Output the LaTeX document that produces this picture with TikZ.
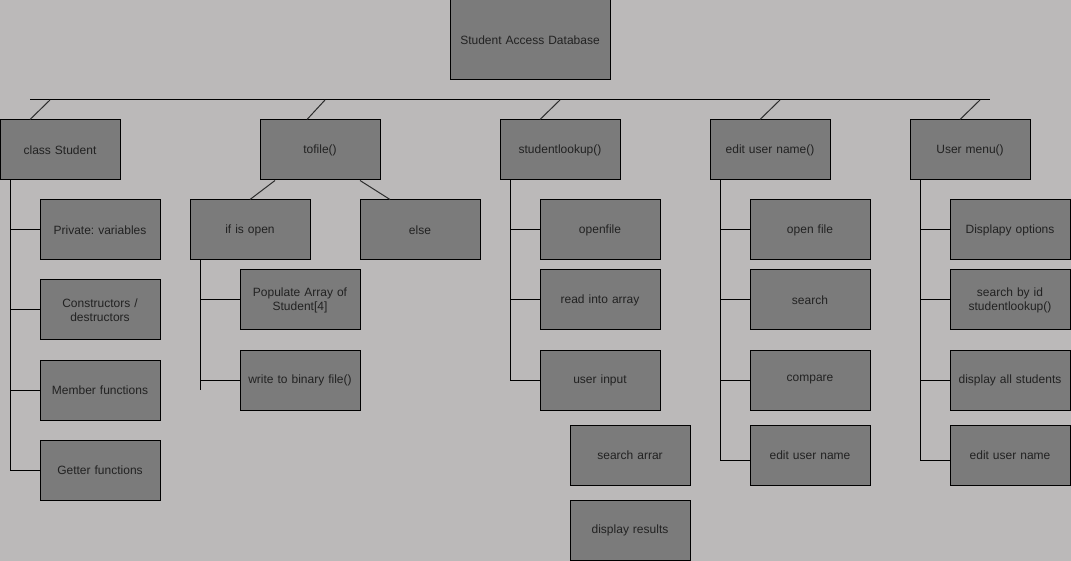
\documentclass[tikz,border=0pt]{standalone}
\usepackage{fontspec}
\setmainfont{Liberation Sans}
\frenchspacing
\begin{document}
\definecolor{pagebg}{RGB}{187,185,185}
\definecolor{boxfill}{RGB}{123,123,123}
\definecolor{inktext}{RGB}{34,34,34}
\definecolor{linkgray}{RGB}{45,45,45}
\begin{tikzpicture}[x=1pt,y=-1pt,
  box/.style={draw=black,line width=1pt,fill=boxfill,rectangle,
    minimum width=120pt,minimum height=60pt,inner sep=2pt,align=center,
    text=inktext,font=\fontsize{12}{14}\selectfont,text width=112pt},
  rootbox/.style={box,minimum width=160pt,minimum height=80pt,text width=150pt},
  wire/.style={draw=black,line width=1pt},
  slant/.style={draw=linkgray,line width=1pt}]
% canvas
\fill[pagebg] (0,0) rectangle (1071,561);
\useasboundingbox (0,0) rectangle (1071,561);

% root
\node[rootbox] (root) at (530,40) {Student Access Database};

% bar under the root
\coordinate (barL) at (30,100);
\coordinate (barR) at (990,100);
\draw[wire] (barL) -- (barR);

% first level
\node[box] (cs) at (60,150)  {class Student};
\node[box] (tf) at (320,150) {tofile()};
\node[box] (sl) at (560,150) {studentlookup()};
\node[box] (eu) at (770,150) {edit user name()};
\node[box] (um) at (970,150) {User menu()};

\coordinate (b1) at (50,100);
\coordinate (b2) at (325,100);
\coordinate (b3) at (560,100);
\coordinate (b4) at (780,100);
\coordinate (b5) at (980,100);
\draw[slant] (b1) -- (cs.north west -| 30,0);
\draw[slant] (b2) -- (tf.north -| 307,0);
\draw[slant] (b3) -- (sl.north -| 540,0);
\draw[slant] (b4) -- (eu.north -| 760,0);
\draw[slant] (b5) -- (um.north -| 960,0);

% class Student members
\node[box] (pv) at (100,230) {Private: variables};
\node[box] (cd) at (100,310) {Constructors /\\destructors};
\node[box] (mf) at (100,390) {Member functions};
\node[box] (gf) at (100,470) {Getter functions};
\coordinate (csT) at (10,180);
\draw[wire] (csT) -- (gf.west -| csT);
\foreach \c in {pv,cd,mf,gf} \draw[wire] (\c.west -| csT) -- (\c.west);

% tofile branches
\node[box] (io) at (250,230) {if is open};
\node[box] (el) at (420,230) {else};
\draw[slant] (tf.south -| 275,0) -- (io.north);
\draw[slant] (tf.south -| 360,0) -- (el.north -| 390,0);

\node[box] (pa) at (300,300) {Populate Array of\\Student[4]};
\node[box] (wb) at (300,380) {write to binary file()};
\coordinate (ioT) at (200,260);
\coordinate (ioE) at (200,390);
\draw[wire] (ioT) -- (ioE);
\foreach \c in {pa,wb} \draw[wire] (\c.west -| ioT) -- (\c.west);

% studentlookup steps
\node[box] (of) at (600,230) {openfile};
\node[box] (ra) at (600,300) {read into array};
\node[box] (ui) at (600,380) {user input};
\node[box] (sa) at (630,455) {search arrar};
\node[box] (dr) at (630,530) {display results};
\coordinate (slT) at (510,180);
\draw[wire] (slT) -- (ui.west -| slT);
\foreach \c in {of,ra,ui} \draw[wire] (\c.west -| slT) -- (\c.west);

% edit user name steps
\node[box] (ef) at (810,230) {open file};
\node[box] (se) at (810,300) {search};
\node[box] (co) at (810,380) {compare};
\node[box] (en) at (810,455) {edit user name};
\coordinate (euT) at (720,180);
\coordinate (euE) at (720,460);
\draw[wire] (euT) -- (euE);
\foreach \c in {ef,se,co} \draw[wire] (\c.west -| euT) -- (\c.west);
\draw[wire] (euE) -- (en.west |- euE);

% user menu entries
\node[box] (dp) at (1010,230) {Displapy options};
\node[box] (sb) at (1010,300) {search by id\\studentlookup()};
\node[box] (da) at (1010,380) {display all students};
\node[box] (ue) at (1010,455) {edit user name};
\coordinate (umT) at (920,180);
\coordinate (umE) at (920,460);
\draw[wire] (umT) -- (umE);
\foreach \c in {dp,sb,da} \draw[wire] (\c.west -| umT) -- (\c.west);
\draw[wire] (umE) -- (ue.west |- umE);
\end{tikzpicture}
\end{document}
